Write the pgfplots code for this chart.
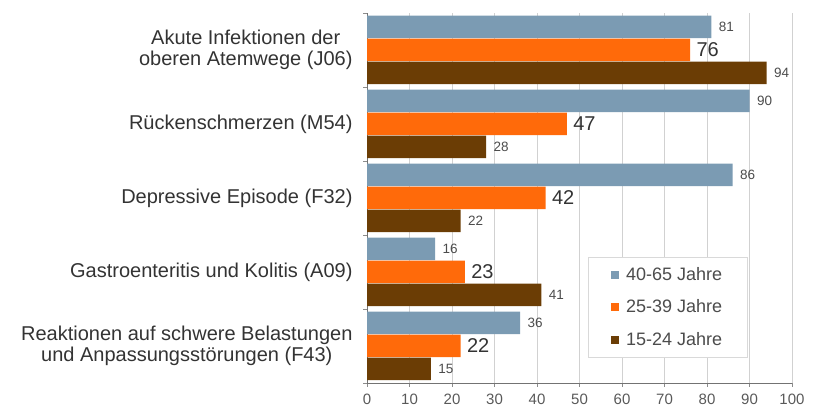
\documentclass[border=0pt]{standalone}
\usepackage{fontspec}
\setmainfont{Liberation Sans}
\usepackage{pgfplots}
\pgfplotsset{compat=1.18}
\definecolor{cgray}{HTML}{7B9BB3}
\definecolor{corange}{HTML}{FF6A0A}
\definecolor{cbrown}{HTML}{6B3D05}
\begin{document}
\begin{tikzpicture}[x=1pt,y=1pt]
\path[use as bounding box] (0,0) rectangle (837,414);
\begin{axis}[
  at={(367pt,31pt)}, anchor=south west,
  scale only axis, width=425pt, height=370pt,
  xbar, bar width=22.5pt,
  xmin=0, xmax=100, ymin=-0.5, ymax=4.5,
  /pgf/number format/assume math mode=true,
  axis lines=left, axis line style={-, draw=black!55},
  tick align=outside, tick pos=left, major tick length=4pt,
  tick style={draw=black!45},
  xmajorgrids, grid style={draw=black!18},
  xtick={0,10,...,100},
  xticklabel style={font=\fontsize{15}{16}\selectfont, text=black!65, yshift=-3pt},
  ytick={-0.5,0.5,1.5,2.5,3.5,4.5}, yticklabels={},
  extra y ticks={0,1,2,3,4},
  extra y tick labels={{Reaktionen auf schwere Belastungen\\und Anpassungsstörungen (F43)},
    {Gastroenteritis und Kolitis (A09)},
    {Depressive Episode (F32)},
    {Rückenschmerzen (M54)},
    {Akute Infektionen der\\oberen Atemwege (J06)}},
  extra y tick style={major tick length=0pt,
    yticklabel style={align=center, font=\fontsize{20}{21}\selectfont, text=black!80, xshift=-11pt}},
  legend style={at={(0.52,0.34)}, anchor=north west, draw=black!15, fill=white,
    font=\fontsize{18}{18}\selectfont, text=black!70, row sep=14pt, inner xsep=23pt, inner ysep=8pt,
    /tikz/every odd column/.append style={column sep=5pt}},
  legend cell align=left,
  legend image code/.code={\fill[#1] (12pt,-4pt) rectangle (20pt,4pt);},
]
\addplot[fill=cgray, draw=none, bar shift=23pt, nodes near coords,
  nodes near coords style={font=\fontsize{13.5}{14}\selectfont, text=black!70, xshift=4pt}]
  coordinates {(81,4) (90,3) (86,2) (16,1) (36,0)};
\addplot[fill=corange, draw=none, bar shift=0pt, nodes near coords,
  nodes near coords style={font=\fontsize{20}{21}\selectfont, text=black!80, xshift=3pt}]
  coordinates {(76,4) (47,3) (42,2) (23,1) (22,0)};
\addplot[fill=cbrown, draw=none, bar shift=-23pt, nodes near coords,
  nodes near coords style={font=\fontsize{13.5}{14}\selectfont, text=black!70, xshift=4pt}]
  coordinates {(94,4) (28,3) (22,2) (41,1) (15,0)};
\legend{40-65 Jahre, 25-39 Jahre, 15-24 Jahre}
\end{axis}
\end{tikzpicture}
\end{document}
